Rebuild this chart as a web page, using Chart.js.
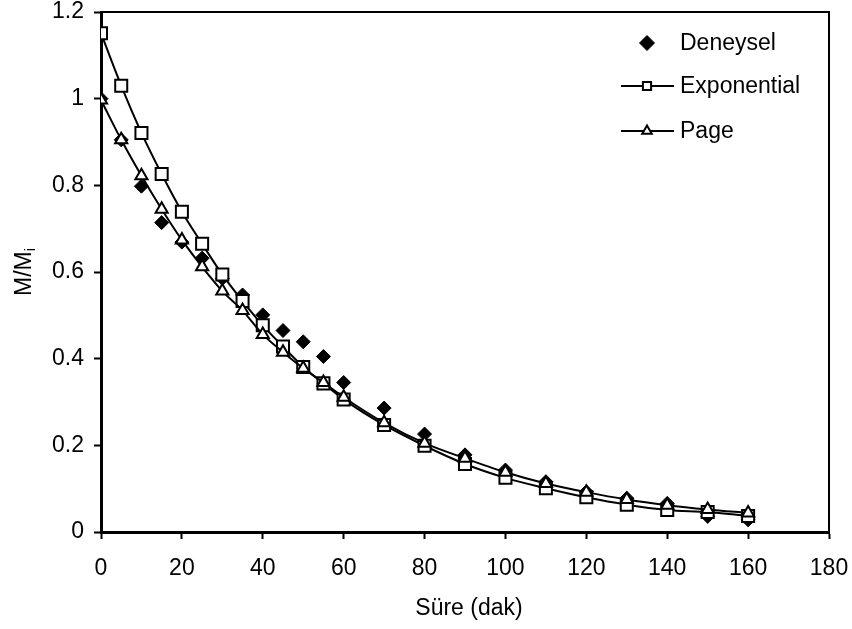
<!DOCTYPE html>
<html>
<head>
<meta charset="utf-8">
<script src="https://cdn.jsdelivr.net/npm/chart.js@4.4.1/dist/chart.umd.min.js"></script>
<style>
  body { margin: 0; background: #fff; }
  #wrap { width: 852px; height: 629px; position: relative; }
</style>
</head>
<body>
<div id="wrap"><canvas id="kurumaChart"></canvas></div>
<script>
// süre (dak) ve M/Mi değerleri
const sure = [0, 5, 10, 15, 20, 25, 30, 35, 40, 45, 50, 55, 60, 70, 80, 90, 100, 110, 120, 130, 140, 150, 160];
const deneysel = [1.0, 0.905, 0.798, 0.714, 0.669, 0.632, 0.585, 0.547, 0.501, 0.465, 0.439, 0.405, 0.345, 0.286, 0.226, 0.178, 0.143, 0.116, 0.093, 0.078, 0.066, 0.036, 0.028];
const exponential = [1.151, 1.03, 0.921, 0.826, 0.739, 0.665, 0.594, 0.533, 0.477, 0.428, 0.381, 0.343, 0.306, 0.247, 0.199, 0.157, 0.125, 0.101, 0.080, 0.063, 0.051, 0.046, 0.037];
const page = [0.997, 0.905, 0.822, 0.745, 0.674, 0.612, 0.556, 0.511, 0.456, 0.415, 0.378, 0.345, 0.311, 0.252, 0.205, 0.170, 0.138, 0.112, 0.092, 0.075, 0.062, 0.052, 0.044];
const legendLabels = ['Deneysel', 'Exponential', 'Page'];
const xTitle = 'Süre (dak)';

const FONT = "'Liberation Sans', Arial, sans-serif";
const FS = 23;
const toXY = arr => arr.map((v, i) => ({ x: sure[i], y: v }));

// çerçeve, eksen başlıkları ve lejant
const extras = {
    id: 'extras',
    afterDraw(chart) {
        const ctx = chart.ctx;
        const a = chart.chartArea;
        ctx.save();
        ctx.strokeStyle = '#000';
        ctx.lineWidth = 2;
        ctx.beginPath();
        ctx.moveTo(a.left, a.top);
        ctx.lineTo(a.right, a.top);
        ctx.lineTo(a.right, a.bottom);
        ctx.stroke();

        ctx.fillStyle = '#000';
        ctx.font = FS + 'px ' + FONT;
        ctx.textAlign = 'center';
        ctx.textBaseline = 'middle';
        ctx.fillText(xTitle, 469, 609);

        // M/Mi (alt simge)
        ctx.save();
        ctx.translate(31, (a.top + a.bottom) / 2);
        ctx.rotate(-Math.PI / 2);
        ctx.textBaseline = 'alphabetic';
        ctx.textAlign = 'left';
        ctx.font = FS + 'px ' + FONT;
        const w1 = ctx.measureText('M/M').width;
        ctx.font = '15px ' + FONT;
        const w2 = ctx.measureText('i').width;
        const sx = -(w1 + w2) / 2;
        ctx.font = FS + 'px ' + FONT;
        ctx.fillText('M/M', sx, 0);
        ctx.font = '15px ' + FONT;
        ctx.fillText('i', sx + w1, 4);
        ctx.restore();

        // lejant
        const rows = [43, 86, 131];
        chart.data.datasets.forEach((ds, i) => {
            const y = rows[i];
            ctx.strokeStyle = '#000';
            if (ds.showLine !== false) {
                ctx.lineWidth = 2;
                ctx.beginPath();
                ctx.moveTo(621, y);
                ctx.lineTo(674, y);
                ctx.stroke();
            }
            ctx.fillStyle = ds.pointBackgroundColor;
            ctx.lineWidth = ds.pointBorderWidth;
            Chart.helpers.drawPoint(ctx, {
                pointStyle: ds.pointStyle,
                radius: ds.legendRadius,
                rotation: 0,
                borderWidth: ds.pointBorderWidth
            }, 647, y);
            ctx.fillStyle = '#000';
            ctx.font = FS + 'px ' + FONT;
            ctx.textAlign = 'left';
            ctx.textBaseline = 'middle';
            ctx.fillText(legendLabels[i], 680, y + 1);
        });
        ctx.restore();
    }
};

new Chart(document.getElementById('kurumaChart'), {
    type: 'scatter',
    data: {
        datasets: [
            {
                label: legendLabels[0],
                data: toXY(deneysel),
                showLine: false,
                pointStyle: 'rectRot',
                pointRadius: 7,
                legendRadius: 7.5,
                pointBackgroundColor: '#000',
                pointBorderColor: '#000',
                pointBorderWidth: 1,
                order: 3
            },
            {
                label: legendLabels[1],
                data: toXY(exponential),
                showLine: true,
                borderColor: '#000',
                borderWidth: 2,
                cubicInterpolationMode: 'monotone',
                pointStyle: 'rect',
                pointRadius: 8.5,
                legendRadius: 5.8,
                pointBackgroundColor: '#fff',
                pointBorderColor: '#000',
                pointBorderWidth: 2,
                order: 2
            },
            {
                label: legendLabels[2],
                data: toXY(page),
                showLine: true,
                borderColor: '#000',
                borderWidth: 2,
                cubicInterpolationMode: 'monotone',
                pointStyle: 'triangle',
                pointRadius: 7,
                legendRadius: 5.5,
                pointBackgroundColor: '#fff',
                pointBorderColor: '#000',
                pointBorderWidth: 2,
                order: 1
            }
        ]
    },
    options: {
        responsive: true,
        maintainAspectRatio: false,
        animation: false,
        layout: { padding: { top: 12, right: 23, left: 0, bottom: 0 } },
        plugins: {
            legend: { display: false },
            tooltip: { enabled: false }
        },
        scales: {
            x: {
                type: 'linear',
                min: 0,
                max: 180,
                ticks: { stepSize: 20, color: '#000', font: { size: FS, family: FONT }, padding: 16 },
                grid: { drawOnChartArea: false, drawTicks: true, tickLength: 7, tickWidth: 2, tickColor: '#000' },
                border: { display: true, color: '#000', width: 3 },
                afterFit: scale => {
                    scale.height = 97;
                    scale.paddingLeft = 0;
                    scale.paddingRight = 0;
                }
            },
            y: {
                min: 0,
                max: 1.2,
                ticks: {
                    stepSize: 0.2,
                    color: '#000',
                    font: { size: FS, family: FONT },
                    padding: 10,
                    callback: v => String(+v.toFixed(1))
                },
                grid: { drawOnChartArea: false, drawTicks: true, tickLength: 7, tickWidth: 2, tickColor: '#000' },
                border: { display: true, color: '#000', width: 3 },
                afterFit: scale => {
                    scale.width = 101;
                    scale.paddingTop = 0;
                    scale.paddingBottom = 0;
                }
            }
        }
    },
    plugins: [extras]
});
</script>
</body>
</html>
